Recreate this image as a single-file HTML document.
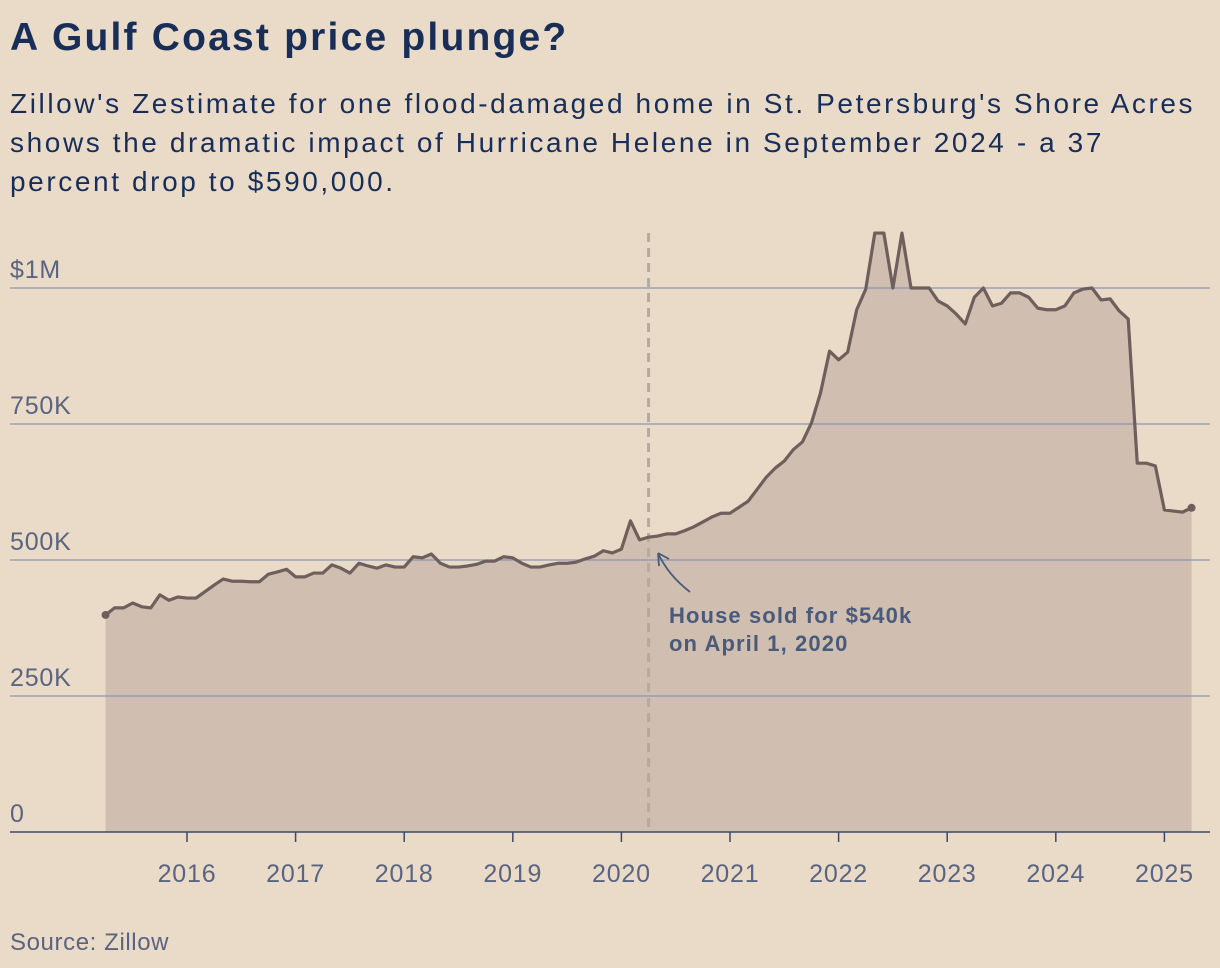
<!DOCTYPE html>
<html><head><meta charset="utf-8"><style>
html,body{margin:0;padding:0;background:#e9dbc8;}
body{width:1220px;height:968px;overflow:hidden;position:relative;font-family:"Liberation Sans",sans-serif;}
#title{position:absolute;left:10px;top:16px;font-size:39px;letter-spacing:2.2px;font-weight:bold;color:#182e58;margin:0;white-space:nowrap;}
#sub{position:absolute;left:10px;top:84px;width:1210px;font-size:28px;letter-spacing:2.6px;line-height:39px;color:#182e58;margin:0;white-space:nowrap;}
svg{position:absolute;left:0;top:0;}
</style></head><body>
<h1 id="title">A Gulf Coast price plunge?</h1>
<p id="sub">Zillow's Zestimate for one flood-damaged home in St. Petersburg's Shore Acres<br>shows the dramatic impact of Hurricane Helene in September 2024 - a 37<br>percent drop to $590,000.</p>
<svg id="chart" width="1220" height="968"></svg>
<script>
const startYear = 2015.25;
const values = [399,412,412,421,414,412,436,426,432,430,430,442,454,465,461,461,460,460,474,478,483,469,469,476,476,491,485,476,494,489,485,491,487,487,506,504,511,494,487,487,489,492,498,498,506,504,494,487,487,491,494,494,496,502,507,517,513,520,572,537,542,
544,548,548,554,561,570,579,586,586,597,608,630,652,669,682,703,717,752,807,884,868,882,960,998,1101,1101,1000,1101,1000,1000,1000,976,967,952,934,983,1000,967,972,991,991,983,963,960,960,967,991,998,1000,978,980,958,943,678,678,673,592,590,588,596];
const yTicks = [0,250,500,750,1000];
const yTickLabels = ["0","250K","500K","750K","$1M"];
const xTicks = [2016,2017,2018,2019,2020,2021,2022,2023,2024,2025];
const saleDate = 2020.25;

const NS="http://www.w3.org/2000/svg";
const svg=document.getElementById('chart');
const xs=y=>187+(y-2016)*108.6;
const ys=v=>832-v*0.544;
function mk(t,a){const e=document.createElementNS(NS,t);for(const k in a)e.setAttribute(k,a[k]);svg.appendChild(e);return e;}

const pts=values.map((v,i)=>[xs(startYear+i/12),ys(v)]);
const area=mk('path',{d:'M'+pts[0][0]+','+ys(0)+' '+pts.map(p=>'L'+p[0]+','+p[1]).join(' ')+' L'+pts[pts.length-1][0]+','+ys(0)+'Z',fill:'#d0beb0'});



yTicks.forEach((t,i)=>{
  if(t>0){const g=mk('line',{x1:10,x2:1210,y1:ys(t),y2:ys(t),stroke:'#8896b4','stroke-width':1.2});
  
  }
  const l=mk('text',{x:10,y:ys(t)-10,'font-size':25,'letter-spacing':0.8,fill:'#5a6480'});
  l.textContent=yTickLabels[i];
  
  
});

const vl=mk('line',{x1:xs(saleDate),x2:xs(saleDate),y1:233,y2:832,stroke:'#b3aaa2','stroke-width':3,'stroke-dasharray':'9,6'});



const line=mk('polyline',{points:pts.map(p=>p.join(',')).join(' '),fill:'none',stroke:'#6e5f5c','stroke-width':3.2,'stroke-linejoin':'round'});


[pts[0],pts[pts.length-1]].forEach(p=>{const c=mk('circle',{cx:p[0],cy:p[1],r:4,fill:'#6e5f5c'});

});

const ax=mk('line',{x1:10,x2:1210,y1:832,y2:832,stroke:'#3a4a6a','stroke-width':1.5});


xTicks.forEach(y=>{
  const t=mk('line',{x1:xs(y),x2:xs(y),y1:832,y2:842,stroke:'#3a4a6a','stroke-width':1.5});
  
  
  const l=mk('text',{x:xs(y),y:882,'font-size':25,'letter-spacing':0.8,fill:'#5a6480','text-anchor':'middle'});
  l.textContent=y;
  
  
});

const arr=mk('path',{d:'M690,592 Q668,575 658,553 M658,553 L659,566 M658,553 L669,559',fill:'none',stroke:'#4a5a7a','stroke-width':1.8});


['House sold for $540k','on April 1, 2020'].forEach((s,i)=>{
  const t=mk('text',{x:669,y:623+i*28,'font-size':22,'letter-spacing':1.1,'font-weight':'bold',fill:'#4a5a7a'});
  t.textContent=s;
  
  
});
const src=mk('text',{x:10,y:950,'font-size':24,'letter-spacing':0.6,fill:'#5a6480'});
src.textContent='Source: Zillow';


</script>
</body></html>
